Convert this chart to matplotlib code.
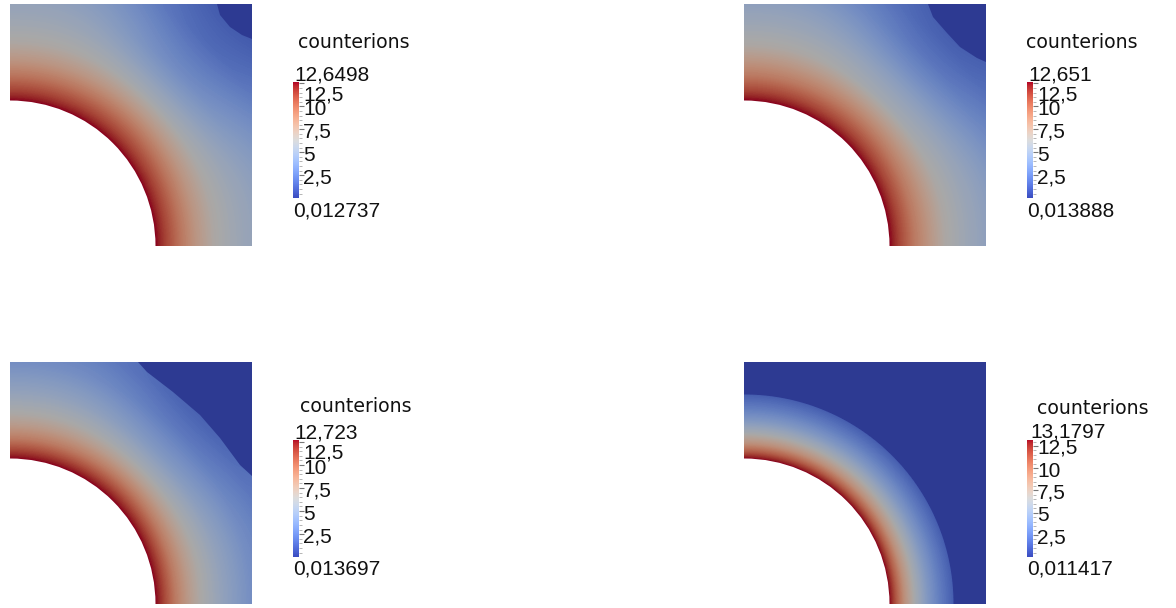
import matplotlib
matplotlib.use('Agg')
import matplotlib.pyplot as plt
import numpy as np
from matplotlib.colors import ListedColormap, Normalize
from matplotlib.patches import Circle

W, H = 1176, 608

# values
vmins = [0.012737, 0.013888, 0.013697, 0.011417]
vmaxs = [12.6498, 12.651, 12.723, 13.1797]
min_labels = ['0,012737', '0,013888', '0,013697', '0,011417']
max_labels = ['12,6498', '12,651', '12,723', '13,1797']
tick_values = [2.5, 5, 7.5, 10, 12.5]
tick_labels = ['2,5', '5', '7,5', '10', '12,5']

# field against distance from the box corner (px), read along the box edge and along the diagonal
radii_1 = [145, 148, 155, 170, 185, 203, 225, 242, 283, 318, 343]
edge_1 = [12.65, 12.3, 11.3, 9.5, 8.0, 6.6, 5.7, 5.2, 4.0, 2.8, 2.4]
diag_1 = [12.65, 12.3, 11.3, 9.5, 7.8, 6.0, 4.5, 3.5, 1.9, 1.2, 1.0]
radii_2 = [145, 148, 155, 170, 185, 200, 222, 242, 262, 285, 305, 343]
edge_2 = [12.65, 12.3, 11.2, 9.3, 7.9, 6.6, 5.6, 4.9, 4.1, 3.3, 2.9, 2.4]
diag_2 = [12.65, 12.3, 11.2, 9.3, 7.6, 6.0, 4.8, 3.5, 2.4, 1.6, 1.2, 1.0]
radii_3 = [145, 148, 155, 165, 178, 190, 210, 240, 263, 300, 343]
edge_3 = [12.72, 12.3, 11.0, 9.3, 7.7, 6.5, 5.2, 3.7, 2.9, 2.3, 2.0]
diag_3 = [12.72, 12.3, 11.0, 9.3, 7.4, 6.0, 4.4, 2.6, 1.7, 1.1, 1.0]
radii_4 = [145, 147, 152, 160, 171, 183, 195, 208.5, 209.5, 343]
edge_4 = [13.18, 12.6, 10.9, 8.6, 6.3, 4.4, 2.9, 1.5, 0.011, 0.011]
diag_4 = [13.18, 12.6, 10.9, 8.6, 6.3, 4.4, 2.9, 1.5, 0.011, 0.011]

# edge of the dark region where the field drops out, in px inside the box
dark_x_1 = [207, 210, 220, 232, 242]
dark_y_1 = [242, 231, 219, 211, 207]
dark_x_2 = [184, 189, 203, 216, 233, 242]
dark_y_2 = [242, 229, 213, 199, 188, 184]
dark_x_3 = [128, 137, 163, 190, 210, 230, 242]
dark_y_3 = [242, 232, 212, 189, 166, 139, 128]

profiles = [(radii_1, edge_1, diag_1), (radii_2, edge_2, diag_2), (radii_3, edge_3, diag_3), (radii_4, edge_4, diag_4)]
darks = [(dark_x_1, dark_y_1), (dark_x_2, dark_y_2), (dark_x_3, dark_y_3), None]

# layout in px from the top left of the image
box_pos = [(10, 4), (744, 4), (10, 362), (744, 362)]
box_size = 242
hole_radius = 145.5
bar_pos = [(293, 82, 198), (1027, 82, 198), (293, 440, 557), (1027, 440, 557)]
title_pos = [(298, 42), (1026, 42), (300, 407), (1037, 409)]
max_pos = [(294, 75), (1028, 75), (294, 433), (1030, 432)]
min_pos = [(293, 211), (1027, 211), (293, 569), (1027, 569)]
top_tick_shift = [12, 12, 11, 2]

# the surface is the same colour map under a dimmer light
lit = plt.cm.coolwarm(np.linspace(0, 1, 256))
lit[:, :3] *= 0.76
lit_cmap = ListedColormap(lit)

label_font = dict(family='Liberation Sans', fontsize=15, color='#111111')


def px_axes(fig, x0, y0, x1, y1):
    return fig.add_axes([x0 / W, 1 - y1 / H, (x1 - x0) / W, (y1 - y0) / H])


def put_text(fig, x, y, s, **kw):
    fig.text(x / W, 1 - y / H, s, ha='left', va='center', **kw)


fig = plt.figure(figsize=(W / 100, H / 100), dpi=100)

for i in range(4):
    norm = Normalize(vmins[i], vmaxs[i])
    x0, y0 = box_pos[i]
    ax = px_axes(fig, x0, y0, x0 + box_size, y0 + box_size)

    r = np.array(profiles[i][0], dtype=float)
    edge = np.array(profiles[i][1], dtype=float)
    diag = np.array(profiles[i][2], dtype=float)
    theta = np.linspace(0, np.pi / 2, 181)
    rr, tt = np.meshgrid(r, theta)
    # go over from the edge reading to the diagonal reading with the angle
    weight = np.sin(2 * tt) ** 4
    cc = edge * (1 - weight) + diag * weight
    levels = np.linspace(vmins[i], vmaxs[i], 200)
    ax.contourf(rr * np.cos(tt), rr * np.sin(tt), cc, levels=levels, cmap=lit_cmap, norm=norm,
                extend='both', antialiased=False)
    ax.add_patch(Circle((0, 0), hole_radius, fc='white', ec='none'))

    if darks[i] is not None:
        dx, dy = darks[i]
        ax.fill(list(dx) + [box_size], list(dy) + [box_size], color=lit_cmap(0.0), lw=0)

    ax.set_xlim(0, box_size)
    ax.set_ylim(0, box_size)
    ax.axis('off')

    # colour bar
    bx, by0, by1 = bar_pos[i]
    cax = px_axes(fig, bx, by0, bx + 6, by1)
    grad = np.linspace(vmins[i], vmaxs[i], 256).reshape(-1, 1)
    cax.imshow(grad, aspect='auto', origin='lower', cmap='coolwarm', norm=norm,
               extent=[0, 1, vmins[i], vmaxs[i]])
    cax.set_xticks([])
    cax.yaxis.tick_right()
    cax.set_yticks(tick_values)
    cax.set_yticks(np.arange(0.5, vmaxs[i], 0.5), minor=True)
    cax.tick_params(axis='y', which='major', length=3.5, width=0.8, color='#777777', labelright=False)
    cax.tick_params(axis='y', which='minor', length=2, width=0.6, color='#aaaaaa')
    for s in cax.spines.values():
        s.set_visible(False)

    for v, lab in zip(tick_values, tick_labels):
        shift = top_tick_shift[i] if v == 12.5 else 3
        cax.annotate(lab, xy=(1, v), xycoords=('axes fraction', 'data'), xytext=(4, -shift),
                     textcoords='offset pixels', ha='left', va='center', **label_font)

    tx, ty = title_pos[i]
    put_text(fig, tx, ty, 'counterions', family='DejaVu Sans', fontsize=13.6, color='#111111')
    mx, my = max_pos[i]
    put_text(fig, mx, my, max_labels[i], **label_font)
    nx, ny = min_pos[i]
    put_text(fig, nx, ny, min_labels[i], **label_font)

fig.savefig('out.png', dpi=100)
